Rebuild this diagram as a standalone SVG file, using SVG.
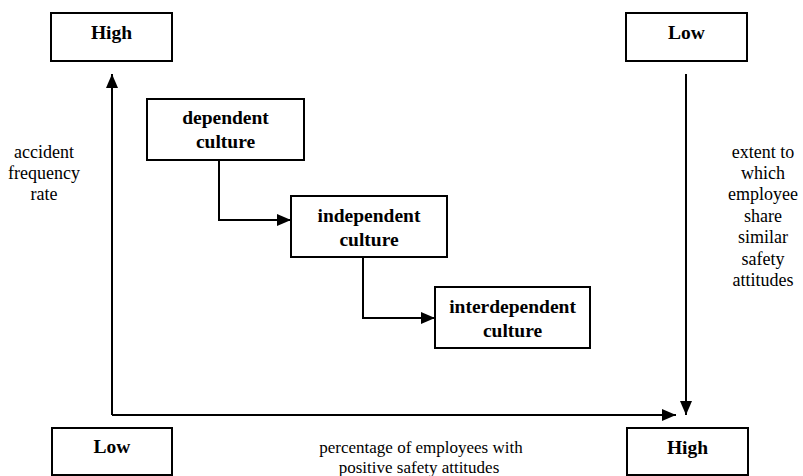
<svg xmlns="http://www.w3.org/2000/svg" width="803" height="476" viewBox="0 0 803 476">
<style>
.box{fill:#fff;stroke:#000;stroke-width:2}
.lbl{font-family:"Liberation Serif","DejaVu Serif","Times New Roman",serif;font-weight:bold;font-size:19.5px;text-anchor:middle;fill:#000}
.ax{font-family:"Liberation Serif","DejaVu Serif","Times New Roman",serif;font-size:18px;text-anchor:middle;fill:#000}
.xl{font-size:17px}
.ln{fill:none;stroke:#000;stroke-width:2}
</style>
<defs>
<marker id="ah" viewBox="0 0 14 12" refX="14" refY="6" markerWidth="14" markerHeight="12" markerUnits="userSpaceOnUse" orient="auto">
<path d="M0,0 L14,6 L0,12 z" fill="#000"/>
</marker>
</defs>
<rect width="803" height="476" fill="#fff"/>
<g id="connectors">
<path class="ln" d="M112,415 L112,74" marker-end="url(#ah)"/>
<path class="ln" d="M112,415 L676,415" marker-end="url(#ah)"/>
<path class="ln" d="M686,74 L686,415" marker-end="url(#ah)"/>
<path class="ln" d="M219,160 L219,220 L291,220" marker-end="url(#ah)"/>
<path class="ln" d="M363,257 L363,318 L435,318" marker-end="url(#ah)"/>
</g>
<g id="high-top"><rect class="box" x="51" y="13" width="121" height="48"/><text class="lbl" x="111.5" y="39">High</text></g>
<g id="low-top"><rect class="box" x="626" y="13" width="121" height="48"/><text class="lbl" x="686.5" y="39">Low</text></g>
<g id="low-bottom"><rect class="box" x="52" y="428" width="120" height="47"/><text class="lbl" x="112" y="453">Low</text></g>
<g id="high-bottom"><rect class="box" x="627" y="428" width="121" height="47"/><text class="lbl" x="687.5" y="454">High</text></g>
<g id="dependent"><rect class="box" x="147" y="99" width="157" height="61"/><text class="lbl" x="225.5" y="124">dependent</text><text class="lbl" x="225.5" y="148">culture</text></g>
<g id="independent"><rect class="box" x="291" y="196" width="156" height="61"/><text class="lbl" x="369" y="222">independent</text><text class="lbl" x="369" y="246">culture</text></g>
<g id="interdependent"><rect class="box" x="435" y="287" width="155" height="61"/><text class="lbl" x="512.5" y="313">interdependent</text><text class="lbl" x="512.5" y="337">culture</text></g>
<g id="y-label"><text class="ax" x="44" y="158">accident</text><text class="ax" x="44" y="179">frequency</text><text class="ax" x="44" y="200">rate</text></g>
<g id="y2-label"><text class="ax" x="763" y="158">extent to</text><text class="ax" x="763" y="179">which</text><text class="ax" x="763" y="200">employee</text><text class="ax" x="763" y="222">share</text><text class="ax" x="763" y="243">similar</text><text class="ax" x="763" y="265">safety</text><text class="ax" x="763" y="286">attitudes</text></g>
<g id="x-label"><text class="ax xl" x="421" y="453">percentage of employees with</text><text class="ax xl" x="419" y="472.5">positive safety attitudes</text></g>
</svg>
